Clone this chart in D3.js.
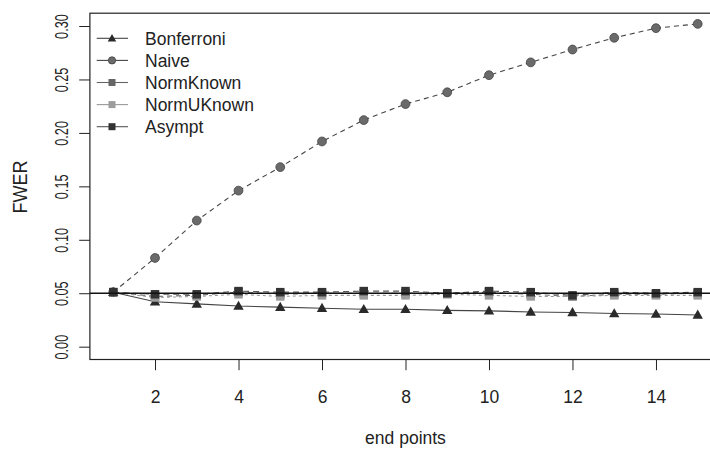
<!DOCTYPE html>
<html>
<head>
<meta charset="utf-8">
<script src="https://cdn.jsdelivr.net/npm/d3@7"></script>
<style>
  body { margin: 0; background: #fff; }
  svg { display: block; font-family: "Liberation Sans", Arial, sans-serif; }
</style>
</head>
<body>
<svg width="710" height="449"></svg>
<script>
// values
const endPoints = [1, 2, 3, 4, 5, 6, 7, 8, 9, 10, 11, 12, 13, 14, 15];
const bonferroni = [0.051, 0.042, 0.040, 0.038, 0.037, 0.036, 0.035, 0.035, 0.034, 0.0335, 0.0325, 0.032, 0.031, 0.0305, 0.0297];
const naive = [0.051, 0.083, 0.118, 0.146, 0.168, 0.192, 0.212, 0.227, 0.238, 0.254, 0.266, 0.278, 0.289, 0.298, 0.302];
const normKnown = [0.051, 0.047, 0.048, 0.051, 0.049, 0.050, 0.050, 0.050, 0.050, 0.051, 0.049, 0.047, 0.049, 0.049, 0.050];
const normUKnown = [0.051, 0.046, 0.047, 0.049, 0.047, 0.048, 0.048, 0.048, 0.049, 0.048, 0.047, 0.047, 0.048, 0.048, 0.048];
const asympt = [0.051, 0.049, 0.049, 0.052, 0.051, 0.051, 0.052, 0.052, 0.050, 0.052, 0.051, 0.048, 0.051, 0.050, 0.051];
const xTicks = [2, 4, 6, 8, 10, 12, 14];
const yTicks = [0, 0.05, 0.1, 0.15, 0.2, 0.25, 0.3];
const refLevel = 0.05;

const series = [
  { name: "Bonferroni", values: bonferroni, shape: "triangle", line: "#444", fill: "#2a2a2a", dash: null },
  { name: "Naive", values: naive, shape: "circle", line: "#444", fill: "#6a6a6a", dash: "5,4" },
  { name: "NormKnown", values: normKnown, shape: "square", line: "#666", fill: "#666", dash: "5,4" },
  { name: "NormUKnown", values: normUKnown, shape: "square", line: "#999", fill: "#9c9c9c", dash: "3,3" },
  { name: "Asympt", values: asympt, shape: "square", line: "#555", fill: "#333", dash: "6,4" }
];

const svg = d3.select("svg");
const ink = "#222";

const x = d3.scaleLinear().domain([0.44, 15.56]).range([89.9, 721.1]);
const y = d3.scaleLinear().domain([-0.012, 0.312]).range([359.5, 13.2]);

// plot box
svg.append("rect")
  .attr("x", x(0.44)).attr("y", y(0.312))
  .attr("width", x(15.56) - x(0.44)).attr("height", y(-0.012) - y(0.312))
  .attr("fill", "none").attr("stroke", ink).attr("stroke-width", 1.2);

// x axis
const xAxis = svg.append("g")
  .attr("transform", `translate(0,${y(-0.012)})`)
  .call(d3.axisBottom(x).tickValues(xTicks).tickSize(10.7).tickPadding(20).tickFormat(d3.format("d")));
xAxis.select(".domain").remove();
xAxis.selectAll("line").attr("stroke", ink);
xAxis.selectAll("text").attr("fill", ink).style("font-size", "17.5px")
  .style("font-family", '"Liberation Sans", Arial, sans-serif');

// y axis, labels turned like R's default
const yAxis = svg.append("g")
  .attr("transform", `translate(${x(0.44)},0)`)
  .call(d3.axisLeft(y).tickValues(yTicks).tickSize(10.7).tickFormat(d3.format(".2f")));
yAxis.select(".domain").remove();
yAxis.selectAll("line").attr("stroke", ink);
yAxis.selectAll("text")
  .attr("x", null).attr("dy", null)
  .attr("text-anchor", "middle")
  .attr("fill", ink)
  .style("font-size", "19px")
  .style("font-family", '"Liberation Sans", Arial, sans-serif')
  .attr("transform", `translate(${68 - x(0.44)},0) rotate(-90) scale(0.67,1)`);

// axis titles
svg.append("text")
  .attr("transform", "translate(27,187) rotate(-90) scale(0.9,1)")
  .attr("text-anchor", "middle").attr("fill", ink)
  .style("font-size", "20px").text("FWER");
svg.append("text")
  .attr("x", 405.5).attr("y", 444)
  .attr("text-anchor", "middle").attr("fill", ink)
  .style("font-size", "17.5px").text("end points");

const plot = svg.append("g");

function marker(g, shape, size, fill) {
  if (shape === "circle") {
    g.append("circle").attr("r", size * 0.52).attr("fill", fill).attr("stroke", "#444").attr("stroke-width", 0.8);
  } else if (shape === "square") {
    g.append("rect").attr("x", -size / 2).attr("y", -size / 2)
      .attr("width", size).attr("height", size).attr("fill", fill);
  } else {
    const h = size * 1.05;
    g.append("path")
      .attr("d", `M0,${-h * 0.6}L${h * 0.58},${h * 0.42}L${-h * 0.58},${h * 0.42}Z`)
      .attr("fill", fill);
  }
}

const line = d3.line().x((d, i) => x(endPoints[i])).y((d) => y(d));

series.forEach((s) => {
  plot.append("path")
    .datum(s.values)
    .attr("d", line)
    .attr("fill", "none")
    .attr("stroke", s.line)
    .attr("stroke-width", 1.1)
    .attr("stroke-dasharray", s.dash);

  plot.append("g").selectAll("g")
    .data(s.values)
    .join("g")
    .attr("transform", (d, i) => `translate(${x(endPoints[i])},${y(d)})`)
    .each(function () { marker(d3.select(this), s.shape, 8.5, s.fill); });
});

// nominal level
svg.append("line")
  .attr("x1", x(0.44)).attr("x2", x(15.56))
  .attr("y1", y(refLevel)).attr("y2", y(refLevel))
  .attr("stroke", "#111").attr("stroke-width", 1.3);

// legend
const legend = svg.append("g");
series.forEach((s, i) => {
  const ly = 38.3 + i * 22.1;
  legend.append("line")
    .attr("x1", 96.7).attr("x2", 128).attr("y1", ly).attr("y2", ly)
    .attr("stroke", s.line).attr("stroke-width", 1.1);
  const g = legend.append("g").attr("transform", `translate(112,${ly})`);
  marker(g, s.shape, 7, s.fill);
  legend.append("text")
    .attr("x", 145).attr("y", ly).attr("dy", "0.36em")
    .attr("fill", ink).style("font-size", "17.5px")
    .text(s.name);
});
</script>
</body>
</html>
